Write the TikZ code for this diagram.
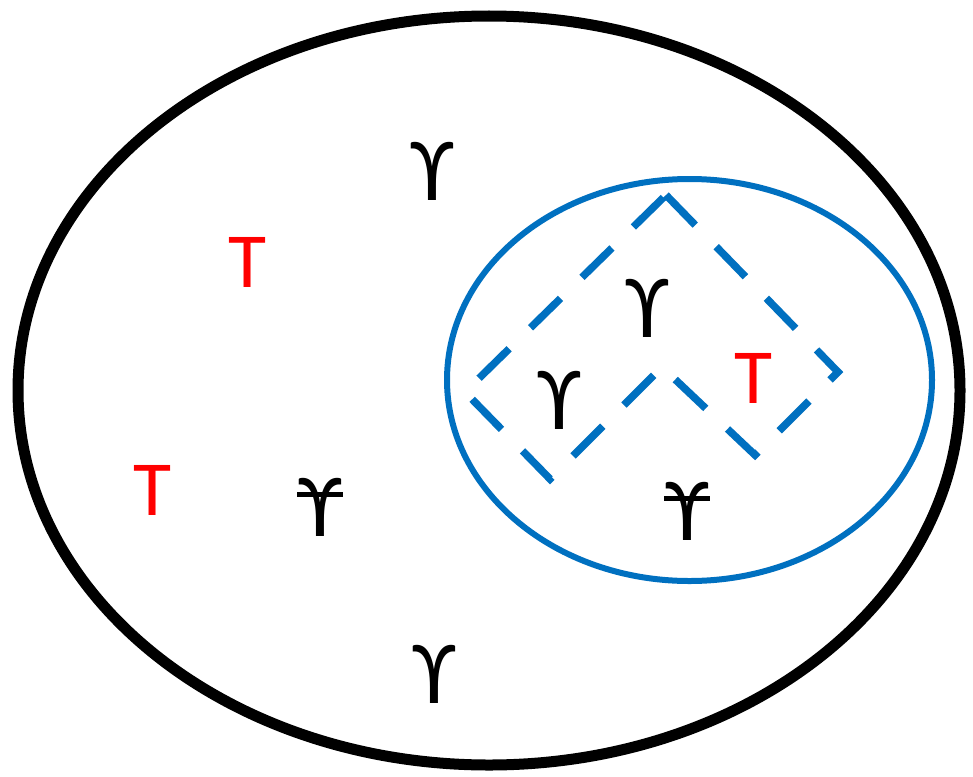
\documentclass[tikz,border=0pt]{standalone}
\usepackage{fontspec}
\setmainfont{Carlito}
\usetikzlibrary{calc}
\definecolor{ublue}{RGB}{0,112,192}
\begin{document}
\begin{tikzpicture}[x=1pt,y=-1pt,
  ups/.style={font=\fontsize{90}{90}\selectfont, inner sep=0pt, text=black},
  tee/.style={font=\fontsize{78}{78}\selectfont, inner sep=0pt, text=red},
  stroke/.style={line width=5pt, black},
  outerset/.style={line width=11pt, black},
  innerset/.style={line width=6pt, ublue},
  subset/.style={line width=7.5pt, ublue, dash pattern=on 42pt off 30pt}]
\useasboundingbox (0,0) rectangle (973,776);
\fill[white] (0,0) rectangle (973,776);
\draw[outerset] (489,390.5) ellipse [x radius=471pt, y radius=374.5pt];
\draw[innerset] (689.5,380) ellipse [x radius=242.5pt, y radius=201pt];
\coordinate (top) at (666,195);
\coordinate (rt) at (838,372);
\coordinate (br) at (755,455);
\coordinate (pk) at (662,367);
\coordinate (bl) at (550,479);
\coordinate (lf) at (465,392);
\draw[subset] (top) -- (rt) -- (br) -- (pk) -- (bl) -- (lf) -- cycle;
\node[ups] (y1) at (432,171) {ϒ};
\node[tee] (t1) at (248,262) {T};
\node[tee] (t2) at (153,490) {T};
\node[ups] (s1) at (320,507) {ϒ};
\node[ups] (s2) at (687,511) {ϒ};
\node[ups] (y2) at (434,674) {ϒ};
\node[ups] (y3) at (647,308) {ϒ};
\node[ups] (y4) at (559,400) {ϒ};
\node[tee] (t3) at (753,378) {T};
\draw[stroke] ($(s1.center)+(-23,-13)$) -- ($(s1.center)+(23,-13)$);
\draw[stroke] ($(s2.center)+(-23,-13)$) -- ($(s2.center)+(23,-13)$);
\end{tikzpicture}
\end{document}
